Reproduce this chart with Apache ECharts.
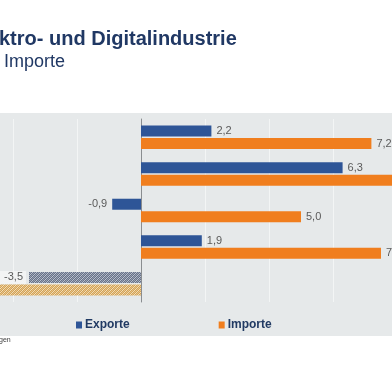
<!DOCTYPE html>
<html>
<head>
<meta charset="utf-8">
<script src="https://cdn.jsdelivr.net/npm/echarts@6/dist/echarts.min.js"></script>
<style>
html,body{margin:0;padding:0;width:392px;height:392px;overflow:hidden;background:#fff;position:relative;}
#c{position:absolute;left:-51px;top:0;width:512px;height:392px;}
</style>
</head>
<body>
<div id="c"></div>
<script>
// Data
var categories = ['Kategorie 1', 'Kategorie 2', 'Kategorie 3', 'Kategorie 4', 'Kategorie 5'];
var exporte = [2.2, 6.3, -0.9, 1.9, -3.5];
var importe = [7.2, 8.4, 5.0, 7.5, -4.9];
var hatched = [false, false, false, false, true];
var seriesNames = ['Exporte', 'Importe'];
var titleText = 'ktro- und Digitalindustrie';
var subtitleText = 'Importe';
var sourceText = 'gen';
var xTicks = { min: -6, max: 10, interval: 2 };

var OFF = 51; // container shift (page x + OFF = chart x)

function makePattern(c1, c2, c3) {
  var c = document.createElement('canvas');
  c.width = 4; c.height = 4;
  var g = c.getContext('2d');
  for (var y = 0; y < 4; y++) {
    for (var x = 0; x < 4; x++) {
      var checker = (x + y) % 2 === 0;
      var diag = ((x + y) % 4) === 1;
      g.fillStyle = checker ? c1 : (diag ? c3 : c2);
      g.fillRect(x, y, 1, 1);
    }
  }
  return { image: c, repeat: 'repeat' };
}
var expHatch = makePattern('#66718a', '#bcc2cc', '#9aa2b0');
var impHatch = makePattern('#d3a257', '#f2deb8', '#e6c48c');

function fmt(v) { return v.toFixed(1).replace('.', ','); }

function buildData(vals, color, hatchColor) {
  return vals.map(function (v, i) {
    return {
      value: v,
      itemStyle: { color: hatched[i] ? hatchColor : color },
      label: {
        position: v < 0 ? 'left' : 'right',
        backgroundColor: hatched[i] ? '#f3f4f4' : 'transparent',
        padding: hatched[i] ? [1, 3, 1, 12] : 0,
        distance: hatched[i] ? 3 : 5
      }
    };
  });
}

var labelStyle = {
  show: true,
  distance: 5,
  color: '#5a5a5a',
  fontSize: 11,
  fontFamily: 'Liberation Sans, Arial, sans-serif',
  formatter: function (p) { return fmt(p.value); }
};

var chart = echarts.init(document.getElementById('c'), null, { renderer: 'canvas' });
chart.setOption({
  animation: false,
  backgroundColor: '#ffffff',
  graphic: [
    { type: 'rect', z: -10, silent: true, shape: { x: 0, y: 113, width: 512, height: 223 }, style: { fill: '#e6e9ea' } },
    { type: 'text', left: OFF - 1, top: 29, style: { text: titleText, font: 'bold 20px "Liberation Sans", Arial, sans-serif', fill: '#203864' } },
    { type: 'text', left: OFF + 4, top: 53, style: { text: subtitleText, font: '18px "Liberation Sans", Arial, sans-serif', fill: '#203864' } },
    { type: 'text', left: OFF - 1, top: 337, style: { text: sourceText, font: '7px "Liberation Sans", Arial, sans-serif', fill: '#404040' } }
  ],
  legend: {
    data: seriesNames,
    left: OFF + 71,
    top: 314,
    itemWidth: 6,
    itemHeight: 7,
    itemGap: 89,
    icon: 'rect',
    textStyle: { fontSize: 12, fontWeight: 'bold', color: '#213a63', fontFamily: 'Liberation Sans, Arial, sans-serif', padding: [0, 0, 0, -2] }
  },
  grid: { left: 0, right: 0, top: 119, bottom: 90, containLabel: false },
  xAxis: {
    type: 'value',
    min: xTicks.min, max: xTicks.max, interval: xTicks.interval,
    axisLabel: { show: false },
    axisLine: { show: false },
    axisTick: { show: false },
    splitLine: { show: true, lineStyle: { color: '#f3f5f5', width: 1 } }
  },
  yAxis: {
    type: 'category',
    data: categories,
    inverse: true,
    axisLabel: { show: false },
    axisTick: { show: false },
    axisLine: { show: true, onZero: true, lineStyle: { color: '#8a8d90', width: 1 } },
    splitLine: { show: false }
  },
  series: [
    {
      name: seriesNames[0], type: 'bar', barWidth: 11, barGap: '14%',
      itemStyle: { color: '#2e5597' },
      label: labelStyle,
      data: buildData(exporte, '#2e5597', expHatch)
    },
    {
      name: seriesNames[1], type: 'bar', barWidth: 11, barGap: '14%',
      itemStyle: { color: '#f07e1e' },
      label: labelStyle,
      data: buildData(importe, '#f07e1e', impHatch)
    }
  ]
});
</script>
</body>
</html>
